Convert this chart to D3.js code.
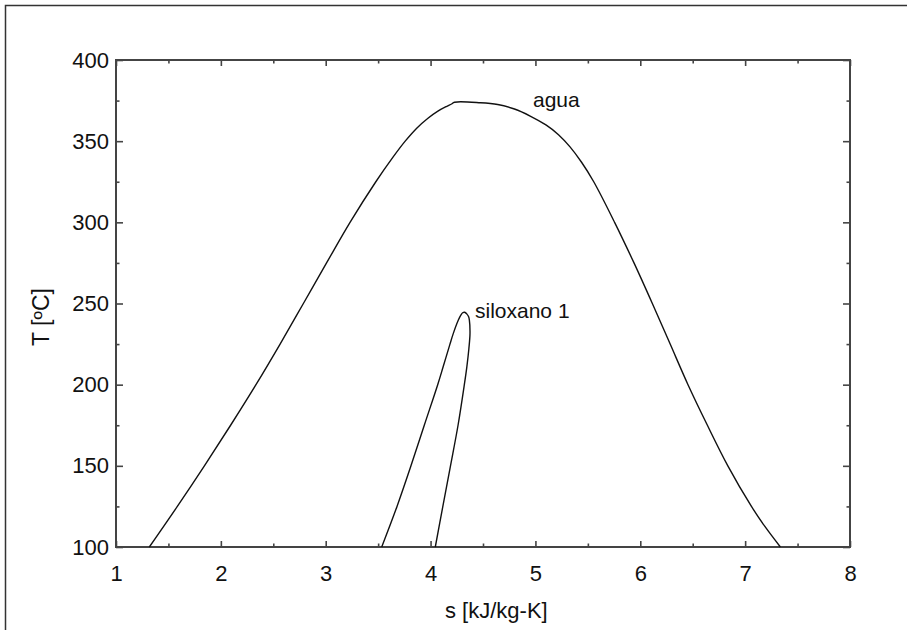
<!DOCTYPE html>
<html>
<head>
<meta charset="utf-8">
<script src="https://cdn.jsdelivr.net/npm/d3@7"></script>
<style>
  body { margin: 0; background: #fff; }
  svg { display: block; font-family: "Liberation Sans", Arial, sans-serif; }
</style>
</head>
<body>
<script>
// agua dome, read left (liquid) to right (vapour)
const aguaS = [1.318, 1.585, 1.843, 2.093, 2.335, 2.565, 2.787, 3.008, 3.232, 3.478, 3.64, 3.758, 3.868, 3.972, 4.07, 4.155, 4.20, 4.228,
  4.475, 4.64, 4.80, 4.95, 5.10, 5.22, 5.33, 5.44, 5.556, 5.755, 5.94, 6.115, 6.285, 6.455, 6.64, 6.835, 7.06, 7.19, 7.336];
const aguaT = [100, 125, 150, 175, 200, 225, 250, 275, 300, 325, 340, 350, 358, 364, 368.5, 371.5, 372.9, 374.0,
  373.7, 372.6, 369.8, 365.5, 360, 354, 346.5, 337, 325, 300, 275, 250, 225, 200, 175, 150, 125, 112.5, 100];

// siloxano 1 dome
const siloxS = [3.534, 3.68, 3.813, 3.94, 4.068, 4.12, 4.185, 4.217, 4.265, 4.29, 4.306, 4.325, 4.345, 4.362, 4.37, 4.376, 4.365, 4.346, 4.322, 4.262, 4.19, 4.117, 4.045];
const siloxT = [100, 125, 150, 175, 200, 211, 225, 231.6, 239.8, 243, 244.3, 244.6, 243.6, 242, 239.8, 231.6, 222, 211, 200, 175, 150, 125, 100];

const xTicks = [1, 2, 3, 4, 5, 6, 7, 8];
const yTicks = [100, 150, 200, 250, 300, 350, 400];

const W = 907, H = 630;
const pLeft = 116, pRight = 850, pTop = 60, pBottom = 547;

const svg = d3.select("body").append("svg")
  .attr("width", W)
  .attr("height", H);

// outer frame (top and left only)
svg.append("path")
  .attr("d", "M907,5.5H5.5V630")
  .attr("fill", "none")
  .attr("stroke", "#333")
  .attr("stroke-width", 1.5);

const x = d3.scaleLinear().domain([1, 8]).range([pLeft, pRight]);
const y = d3.scaleLinear().domain([100, 400]).range([pBottom, pTop]);

const xMinor = d3.range(1.5, 8, 1);
const yMinor = d3.range(125, 400, 50);

function styleAxis(g) {
  g.select(".domain").remove();
  g.selectAll("line").attr("stroke", "#444").attr("stroke-width", 1.6);
  g.selectAll("text").attr("fill", "#111").attr("font-size", 22).attr("font-family", null);
}

// bottom
svg.append("g").attr("transform", "translate(0," + pBottom + ")")
  .call(d3.axisBottom(x).tickValues(xTicks).tickSize(-6).tickPadding(18.4).tickFormat(d3.format("d")))
  .call(styleAxis);
svg.append("g").attr("transform", "translate(0," + pBottom + ")")
  .call(d3.axisBottom(x).tickValues(xMinor).tickSize(-3.5).tickFormat(""))
  .call(styleAxis);
// top
svg.append("g").attr("transform", "translate(0," + pTop + ")")
  .call(d3.axisTop(x).tickValues(xTicks).tickSize(-6).tickFormat(""))
  .call(styleAxis);
svg.append("g").attr("transform", "translate(0," + pTop + ")")
  .call(d3.axisTop(x).tickValues(xMinor).tickSize(-3.5).tickFormat(""))
  .call(styleAxis);
// left
svg.append("g").attr("transform", "translate(" + pLeft + ",0)")
  .call(d3.axisLeft(y).tickValues(yTicks).tickSize(-7).tickPadding(7).tickFormat(d3.format("d")))
  .call(styleAxis);
svg.append("g").attr("transform", "translate(" + pLeft + ",0)")
  .call(d3.axisLeft(y).tickValues(yMinor).tickSize(-3.5).tickFormat(""))
  .call(styleAxis);
// right
svg.append("g").attr("transform", "translate(" + pRight + ",0)")
  .call(d3.axisRight(y).tickValues(yTicks).tickSize(-7).tickFormat(""))
  .call(styleAxis);
svg.append("g").attr("transform", "translate(" + pRight + ",0)")
  .call(d3.axisRight(y).tickValues(yMinor).tickSize(-3.5).tickFormat(""))
  .call(styleAxis);

// plot box
svg.append("rect")
  .attr("x", pLeft).attr("y", pTop)
  .attr("width", pRight - pLeft).attr("height", pBottom - pTop)
  .attr("fill", "none")
  .attr("stroke", "#444")
  .attr("stroke-width", 2);

const aguaLine = d3.line()
  .x(function(d, i) { return x(aguaS[i]); })
  .y(function(d, i) { return y(aguaT[i]); })
  .curve(d3.curveCatmullRom.alpha(0.5));

svg.append("path")
  .datum(aguaS)
  .attr("d", aguaLine)
  .attr("fill", "none")
  .attr("stroke", "#111")
  .attr("stroke-width", 1.4);

const siloxLine = d3.line()
  .x(function(d, i) { return x(siloxS[i]); })
  .y(function(d, i) { return y(siloxT[i]); })
  .curve(d3.curveCatmullRom.alpha(0.5));

svg.append("path")
  .datum(siloxS)
  .attr("d", siloxLine)
  .attr("fill", "none")
  .attr("stroke", "#111")
  .attr("stroke-width", 1.4);

// curve labels
svg.append("text")
  .attr("x", 533).attr("y", 107)
  .attr("font-size", 21).attr("fill", "#111")
  .text("agua");
svg.append("text")
  .attr("x", 475).attr("y", 318)
  .attr("font-size", 21).attr("fill", "#111")
  .text("siloxano 1");

// axis titles
svg.append("text")
  .attr("x", 445).attr("y", 618)
  .attr("font-size", 22).attr("fill", "#111")
  .text("s [kJ/kg-K]");
svg.append("text")
  .attr("transform", "translate(49,317) rotate(-90)")
  .attr("text-anchor", "middle")
  .attr("font-size", 23).attr("fill", "#111")
  .text("T [ºC]");
</script>
</body>
</html>
